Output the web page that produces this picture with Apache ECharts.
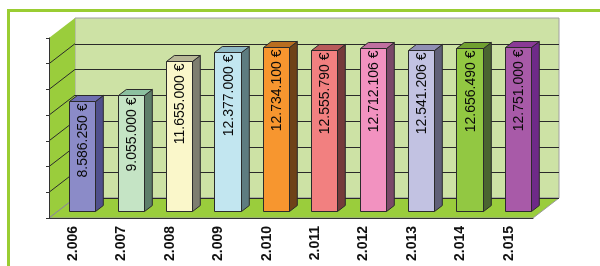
<!DOCTYPE html>
<html>
<head>
<meta charset="utf-8">
<script src="https://cdn.jsdelivr.net/npm/echarts@6/dist/echarts.min.js"></script>
<style>
  html, body { margin: 0; padding: 0; background: #fff; }
  #chart-wrapper { width: 600px; height: 266px; }
</style>
</head>
<body>
<div id="chart-wrapper"></div>
<script>
// data
const years = ["2.006", "2.007", "2.008", "2.009", "2.010", "2.011", "2.012", "2.013", "2.014", "2.015"];
const amounts = [8586250, 9055000, 11655000, 12377000, 12734100, 12555790, 12712106, 12541206, 12656490, 12751000];
const axisMax = 14000000;
const axisStep = 2000000;

// bar colours: front, side, top
const frontColors = ["#8b8bc8", "#c5e4c5", "#faf7ca", "#c2e6f0", "#f7962f", "#f28080", "#f292c0", "#c2c2e2", "#92c842", "#a85aa8"];
const sideColors = ["#50508c", "#5e7e6a", "#7e7e70", "#5e7c80", "#6e4218", "#743a3a", "#7a4868", "#606078", "#4a6430", "#6e2a88"];
const topColors = ["#6e6eb0", "#8cc0a0", "#b7b796", "#8eb8c4", "#b86e20", "#b85a5a", "#c070a0", "#9090b4", "#70a030", "#8a3a96"];

// oblique projection of the box
const DEPTH_X = 26;
const DEPTH_Y = -20;
const BAR_FRONT = 0.35;
const BAR_BACK = 0.65;

const crisp = (v) => Math.round(v) + 0.5;

const formatEuro = (v) =>
  String(v).replace(/\B(?=(\d{3})+(?!\d))/g, ".") + " €";

const renderWalls = (params, api) => {
  const cs = params.coordSys;
  const x0 = cs.x, x1 = cs.x + cs.width;
  const yb = cs.y + cs.height, yt = cs.y;
  const dx = DEPTH_X, dy = DEPTH_Y;
  const children = [];
  // back wall
  children.push({
    type: "polygon",
    shape: { points: [[x0 + dx, yb + dy], [x1 + dx, yb + dy], [x1 + dx, yt + dy], [x0 + dx, yt + dy]] },
    style: { fill: "#cde2a5", stroke: "#a0a0a0", lineWidth: 1 },
  });
  // left wall
  children.push({
    type: "polygon",
    shape: { points: [[x0, yb], [x0 + dx, yb + dy], [x0 + dx, yt + dy], [x0, yt]] },
    style: { fill: "#9acd3c" },
  });
  // floor
  children.push({
    type: "polygon",
    shape: { points: [[x0, yb], [x1, yb], [x1 + dx, yb + dy], [x0 + dx, yb + dy]] },
    style: { fill: "#9acd3c", stroke: "#9a9a9a", lineWidth: 1 },
  });
  for (let v = 0; v < axisMax; v += axisStep) {
    const y = api.coord([0, v])[1];
    children.push({
      type: "line",
      shape: { x1: x0 + dx, y1: crisp(y + dy), x2: x1 + dx, y2: crisp(y + dy) },
      style: { stroke: "#2a2a2a", lineWidth: 1 },
    });
    children.push({
      type: "line",
      shape: { x1: x0, y1: y, x2: x0 + dx, y2: y + dy },
      style: { stroke: v === 0 ? "#8a8a8a" : "#2a2a2a", lineWidth: 1 },
    });
  }
  return { type: "group", children };
};

const renderBar = (params, api) => {
  const i = api.value(0);
  const v = api.value(1);
  const base = api.coord([i, 0]);
  const top = api.coord([i, v]);
  const w = api.size([1, 0])[0] * 0.54;
  const ox = DEPTH_X * BAR_FRONT, oy = DEPTH_Y * BAR_FRONT;
  const bx = DEPTH_X * (BAR_BACK - BAR_FRONT), by = DEPTH_Y * (BAR_BACK - BAR_FRONT);
  const l = crisp(base[0] - w / 2 + ox), r = crisp(base[0] + w / 2 + ox);
  const yb = crisp(base[1] + oy), yt = crisp(top[1] + oy);
  const edge = { stroke: "#2b2b2b", lineWidth: 1 };
  return {
    type: "group",
    children: [
      {
        type: "polygon",
        shape: { points: [[r, yb], [r + bx, yb + by], [r + bx, yt + by], [r, yt]] },
        style: Object.assign({ fill: sideColors[i] }, edge),
      },
      {
        type: "polygon",
        shape: { points: [[l, yt], [r, yt], [r + bx, yt + by], [l + bx, yt + by]] },
        style: Object.assign({ fill: topColors[i] }, edge),
      },
      {
        type: "rect",
        shape: { x: l, y: yt, width: r - l, height: yb - yt },
        style: Object.assign({ fill: frontColors[i] }, edge),
      },
      {
        type: "text",
        x: (l + r) / 2 + 1,
        y: yt + 2,
        rotation: Math.PI / 2,
        style: {
          text: formatEuro(v),
          fill: "#0a0a0a",
          font: "14px 'Liberation Sans', Arial, sans-serif",
          align: "right",
          verticalAlign: "middle",
        },
      },
    ],
  };
};

function main() {
  const chartDom = document.getElementById("chart-wrapper");
  const chart = echarts.init(chartDom, null, { renderer: "canvas" });
  const option = {
    animation: false,
    backgroundColor: "#fff",
    graphic: [
      { type: "rect", shape: { x: 7, y: 9, width: 593, height: 3 }, style: { fill: "#9acd32" } },
      { type: "rect", shape: { x: 7, y: 9, width: 3, height: 257 }, style: { fill: "#9acd32" } },
    ],
    grid: { left: 49, right: 67, top: 38, bottom: 48 },
    xAxis: {
      type: "category",
      data: years,
      axisLine: { lineStyle: { color: "#333", width: 1 } },
      axisTick: { length: 4, lineStyle: { color: "#333" } },
      axisLabel: {
        rotate: 90,
        margin: 8,
        color: "#111",
        fontSize: 14,
        fontWeight: "bold",
        fontFamily: "'Liberation Sans', Arial, sans-serif",
      },
      z: 10,
    },
    yAxis: {
      type: "value",
      min: 0,
      max: axisMax,
      interval: axisStep,
      axisLine: { show: true, lineStyle: { color: "#333", width: 1 } },
      axisTick: { show: true, length: 3, lineStyle: { color: "#333" } },
      axisLabel: { show: false },
      splitLine: { show: false },
      z: 10,
    },
    series: [
      {
        type: "custom",
        name: "walls",
        silent: true,
        renderItem: renderWalls,
        data: [[0, 0]],
        z: 1,
      },
      {
        type: "custom",
        name: "amounts",
        renderItem: renderBar,
        data: amounts.map((v, i) => [i, v]),
        z: 2,
      },
    ],
  };
  chart.setOption(option);
}

window.onload = main;
</script>
</body>
</html>
